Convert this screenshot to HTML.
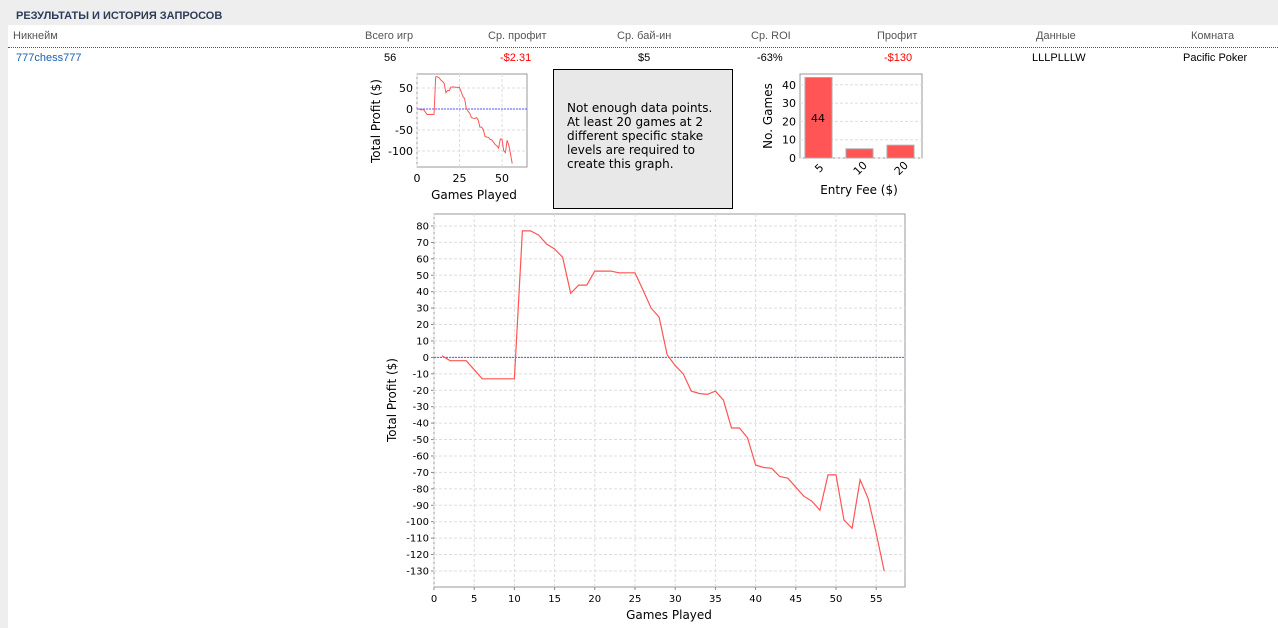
<!DOCTYPE html>
<html><head><meta charset="utf-8"><style>
body{margin:0;width:1278px;height:628px;background:#eeeeee;font-family:"Liberation Sans",sans-serif;overflow:hidden;position:relative}
.panel{position:absolute;left:8px;top:25px;width:1270px;height:603px;background:#fff}
.t{position:absolute;font-size:11px;white-space:nowrap;font-family:"Liberation Sans",sans-serif}
svg{position:absolute;left:0;top:0}
svg text{font-family:"DejaVu Sans","Liberation Sans",sans-serif}
</style></head><body>
<div class="panel"></div>
<div class="t" style="left:16px;top:10px;font-weight:bold;color:#2b3d5a;font-size:11px">РЕЗУЛЬТАТЫ И ИСТОРИЯ ЗАПРОСОВ</div>
<div style="position:absolute;left:8px;top:47px;width:1270px;border-top:1px dotted #555"></div>
<div class="t" style="left:13px;top:30px;color:#555">Никнейм</div>
<div class="t" style="left:365px;top:30px;color:#555">Всего игр</div>
<div class="t" style="left:488px;top:30px;color:#555">Ср. профит</div>
<div class="t" style="left:617px;top:30px;color:#555">Ср. бай-ин</div>
<div class="t" style="left:751px;top:30px;color:#555">Ср. ROI</div>
<div class="t" style="left:877px;top:30px;color:#555">Профит</div>
<div class="t" style="left:1036px;top:30px;color:#555">Данные</div>
<div class="t" style="left:1191px;top:30px;color:#555">Комната</div>
<div class="t" style="left:16px;top:52px;color:#1a5fb4">777chess777</div>
<div class="t" style="left:384px;top:52px;color:#000">56</div>
<div class="t" style="left:500px;top:52px;color:#f00">-$2.31</div>
<div class="t" style="left:638px;top:52px;color:#000">$5</div>
<div class="t" style="left:757px;top:52px;color:#000">-63%</div>
<div class="t" style="left:884px;top:52px;color:#f00">-$130</div>
<div class="t" style="left:1032px;top:52px;color:#000">LLLPLLLW</div>
<div class="t" style="left:1183px;top:52px;color:#000">Pacific Poker</div>
<div style="position:absolute;left:553px;top:69px;width:178px;height:138px;background:#e8e8e8;border:1px solid #000"></div>
<div class="t" style="left:567px;top:101px;font-size:12px;line-height:14px;color:#000;font-family:'DejaVu Sans',sans-serif">Not enough data points.<br>At least 20 games at 2<br>different specific stake<br>levels are required to<br>create this graph.</div>
<svg id="s" width="1278" height="628"></svg>
<script>
var d=[1,-2,-2,-2,-7.5,-13,-13,-13,-13,-13,77,77,74.5,69,66,61,39,44,44,52.5,52.5,52.5,51.5,51.5,51.5,41,30,24.5,1.5,-5,-10,-20.5,-22,-22.5,-20.5,-26,-43,-43,-49,-65.5,-67,-67.5,-72.5,-73.5,-79,-84.5,-87.5,-93,-71.5,-71.5,-99,-104,-74.5,-86,-107,-130];
var s='';
function T(x,y,t,sz,a,extra){return '<text x="'+x+'" y="'+y+'" font-size="'+sz+'" text-anchor="'+(a||'middle')+'" '+(extra||'')+'>'+t+'</text>';}
var L=434,R=905,Tp=214,B=587,x0=434,kx=8.04,y0=357.4,ky=1.643;
s+='<rect x="'+L+'" y="'+Tp+'" width="'+(R-L)+'" height="'+(B-Tp)+'" fill="#fff" stroke="#999"/>';
for(var v=-130;v<=80;v+=10){var y=y0-v*ky;s+='<line x1="'+L+'" x2="'+R+'" y1="'+y+'" y2="'+y+'" stroke="#ddd" stroke-dasharray="3,2"/>';s+='<line x1="'+(L-3)+'" x2="'+L+'" y1="'+y+'" y2="'+y+'" stroke="#888"/>'+T(L-5,y+3.5,v,10,'end');}
for(var g=0;g<=55;g+=5){var x=x0+g*kx;s+='<line y1="'+Tp+'" y2="'+B+'" x1="'+x+'" x2="'+x+'" stroke="#ddd" stroke-dasharray="3,2"/>';s+='<line y1="'+B+'" y2="'+(B+3)+'" x1="'+x+'" x2="'+x+'" stroke="#888"/>'+T(x,B+15,g,10);}
s+='<line x1="'+L+'" x2="'+R+'" y1="'+y0+'" y2="'+y0+'" stroke="#55f" stroke-dasharray="2,1"/>';
var p=d.map(function(v,i){return (x0+(i+1)*kx).toFixed(1)+','+(y0-v*ky).toFixed(1)}).join(' ');
s+='<polyline points="'+p+'" fill="none" stroke="#ff5555" stroke-width="1.2"/>';
s+=T(669,619,'Games Played',12);
s+=T(396,400,'Total Profit ($)',12,'middle','transform="rotate(-90 396 400)"');
var l2=417,r2=527,t2=74,b2=167,sx=1.7,sy0=109,sk=0.42;
s+='<rect x="'+l2+'" y="'+t2+'" width="'+(r2-l2)+'" height="'+(b2-t2)+'" fill="#fff" stroke="#999"/>';
[50,0,-50,-100].forEach(function(v){var y=sy0-v*sk;s+='<line x1="'+l2+'" x2="'+r2+'" y1="'+y+'" y2="'+y+'" stroke="#ddd" stroke-dasharray="3,2"/>'+T(l2-4,y+4,v,11,'end');});
[0,25,50].forEach(function(g){var x=l2+g*sx;s+='<line y1="'+t2+'" y2="'+b2+'" x1="'+x+'" x2="'+x+'" stroke="#ddd" stroke-dasharray="3,2"/>'+T(x,b2+15,g,11);});
s+='<line x1="'+l2+'" x2="'+r2+'" y1="'+sy0+'" y2="'+sy0+'" stroke="#55f" stroke-dasharray="2,1"/>';
p=d.map(function(v,i){return (l2+(i+1)*sx).toFixed(1)+','+(sy0-v*sk).toFixed(1)}).join(' ');
s+='<polyline points="'+p+'" fill="none" stroke="#ff5555"/>';
s+=T(474,199,'Games Played',12);
s+=T(380,121,'Total Profit ($)',12,'middle','transform="rotate(-90 380 121)"');
var l3=800,r3=922,t3=74,b3=158,bk=1.83;
s+='<rect x="'+l3+'" y="'+t3+'" width="'+(r3-l3)+'" height="'+(b3-t3)+'" fill="#fff" stroke="#999"/>';
[0,10,20,30,40].forEach(function(v){var y=b3-v*bk;s+='<line x1="'+l3+'" x2="'+r3+'" y1="'+y+'" y2="'+y+'" stroke="#ddd" stroke-dasharray="3,2"/>'+T(l3-4,y+4,v,11,'end');});
[[805,44,'5'],[846,5,'10'],[887,7,'20']].forEach(function(b){var h=b[1]*bk;s+='<rect x="'+b[0]+'" y="'+(b3-h)+'" width="27" height="'+h+'" fill="#ff5555" stroke="#aaa"/>';var cx=b[0]+14;s+=T(cx,b3+14,b[2],11,'middle','transform="rotate(-45 '+cx+' '+(b3+10)+')"');});
s+=T(818,122,'44',11);
s+=T(859,194,'Entry Fee ($)',12);
s+=T(772,116,'No. Games',12,'middle','transform="rotate(-90 772 116)"');
document.getElementById('s').innerHTML=s;
</script>
</body></html>
